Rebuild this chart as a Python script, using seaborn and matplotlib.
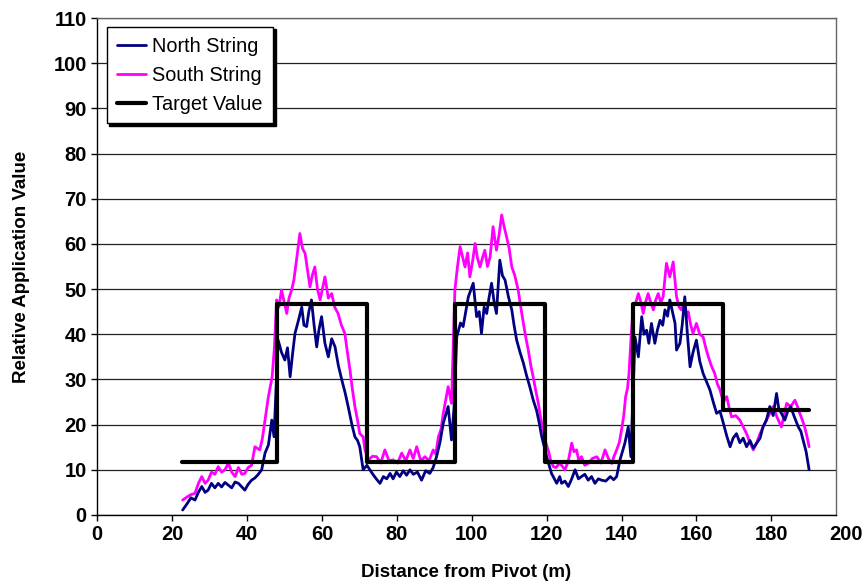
import matplotlib
matplotlib.use("Agg")
import matplotlib.pyplot as plt
import seaborn as sns
import pandas as pd

# ---- data ----
north_x = [22.8, 24.0, 25.0, 26.1, 27.0, 27.9, 28.8, 29.6, 30.5, 31.4, 32.3, 33.2, 34.1, 35.0, 35.9,
           36.8, 37.7, 38.6, 39.4, 40.3, 41.2, 42.1, 43.0, 43.9, 44.8, 45.7, 46.6, 47.2, 48.3, 49.2,
           50.1, 50.8, 51.5, 52.2, 52.8, 53.7, 54.6, 55.2, 55.9, 56.5, 57.2, 57.9, 58.6, 59.2, 59.9,
           60.8, 61.7, 62.6, 63.5, 64.4, 65.3, 66.2, 67.0, 68.0, 68.8, 69.5, 70.1, 71.0, 72.0, 72.8,
           73.6, 74.5, 75.5, 76.4, 77.3, 78.2, 79.0, 79.9, 80.8, 81.7, 82.6, 83.5, 84.4, 85.5, 86.6,
           87.7, 88.8, 89.7, 90.6, 91.5, 92.4, 93.7, 94.6, 95.3, 96.0, 97.0, 97.7, 98.4, 99.1, 100.4,
           101.3, 102.0, 102.6, 103.3, 104.0, 104.6, 105.3, 106.0, 106.6, 107.5, 108.2, 108.9, 109.8, 110.7, 111.3,
           112.0, 112.9, 113.8, 114.6, 115.5, 116.4, 117.3, 118.0, 118.7, 119.4, 120.0, 121.3, 122.7, 123.5, 124.0,
           124.9, 125.8, 126.7, 127.6, 128.5, 129.3, 130.2, 131.1, 132.0, 132.9, 133.8, 134.7, 135.8, 137.0, 137.9,
           138.7, 139.6, 140.9, 141.8, 142.5, 143.6, 144.5, 145.4, 146.0, 146.7, 147.3, 148.0, 148.9, 149.6, 150.3,
           151.0, 151.6, 152.3, 152.9, 153.6, 154.3, 154.7, 155.6, 156.2, 156.9, 157.6, 158.3, 159.1, 160.0, 160.9,
           161.8, 162.7, 163.6, 164.5, 165.4, 166.3, 167.2, 168.1, 169.0, 169.8, 170.7, 171.6, 172.5, 173.4, 174.3,
           175.2, 176.1, 177.0, 177.8, 178.7, 179.6, 180.5, 181.4, 182.0, 182.7, 183.6, 184.5, 185.2, 185.8, 186.5,
           187.2, 187.9, 188.5, 189.3, 190.1]
north_y = [1.1, 2.5, 3.8, 3.3, 5.0, 6.3, 5.0, 5.5, 7.0, 6.0, 7.0, 6.2, 7.2, 6.6, 6.0,
           7.3, 7.0, 6.2, 5.5, 6.8, 7.7, 8.2, 9.0, 10.0, 13.7, 15.5, 21.0, 17.3, 38.7, 36.0,
           34.3, 37.0, 30.6, 36.0, 40.2, 43.0, 46.0, 42.0, 41.7, 45.0, 47.6, 42.0, 37.2, 41.0, 43.9,
           38.0, 35.0, 39.0, 37.2, 33.0, 29.9, 27.0, 24.0, 20.0, 17.3, 16.5, 15.1, 10.0, 11.0, 10.0,
           9.0, 8.0, 7.0, 8.5, 8.0, 9.2, 8.0, 9.5, 8.5, 9.8, 8.8, 10.0, 9.0, 9.5, 7.7,
           9.8, 9.2, 10.5, 12.9, 16.0, 20.3, 24.0, 16.6, 24.0, 39.4, 42.5, 41.7, 45.0, 48.3, 51.3,
           43.9, 45.0, 40.2, 46.0, 44.6, 48.0, 51.3, 47.0, 44.6, 56.4, 53.0, 52.0, 48.3, 45.4, 42.0,
           38.7, 36.0, 33.6, 31.0, 28.4, 25.5, 23.2, 20.5, 17.3, 15.0, 12.9, 9.2, 7.0, 8.5, 7.0,
           7.5, 6.3, 8.0, 10.0, 8.0, 8.5, 9.0, 7.7, 8.5, 7.0, 8.0, 7.7, 7.5, 8.5, 7.8,
           8.5, 12.2, 15.9, 19.5, 12.9, 39.4, 35.0, 43.9, 40.0, 40.9, 38.0, 42.4, 38.0, 41.0, 43.1,
           42.0, 45.4, 44.0, 47.6, 45.0, 42.4, 36.5, 38.0, 42.0, 48.3, 40.0, 32.8, 36.0, 38.7, 34.0,
           31.3, 29.5, 27.7, 25.0, 22.5, 23.0, 20.3, 17.5, 15.1, 17.0, 18.0, 16.0, 17.0, 15.1, 16.5,
           14.8, 15.9, 17.0, 19.5, 21.0, 24.0, 22.0, 26.9, 23.5, 22.5, 21.0, 23.2, 24.0, 22.5, 21.0,
           19.5, 18.5, 16.6, 14.0, 10.0]

south_x = [22.8, 24.0, 25.0, 26.1, 27.0, 27.9, 28.8, 29.6, 30.5, 31.4, 32.3, 33.2, 34.1, 35.0, 35.9,
           36.8, 37.7, 38.6, 39.4, 40.3, 41.2, 42.1, 43.4, 44.1, 44.8, 45.7, 46.7, 47.3, 47.9, 48.5,
           49.2, 50.6, 51.2, 51.9, 52.5, 53.2, 54.1, 54.8, 55.5, 56.2, 56.8, 57.4, 58.1, 58.8, 59.5,
           60.1, 60.8, 61.7, 62.6, 63.4, 64.3, 65.2, 66.1, 66.8, 67.5, 68.1, 68.8, 69.5, 70.1, 71.0,
           71.5, 72.4, 73.5, 74.6, 75.7, 76.8, 77.9, 79.0, 80.2, 81.3, 82.4, 83.5, 84.4, 85.3, 86.4,
           87.5, 88.6, 89.7, 90.4, 91.1, 91.8, 92.4, 93.7, 94.6, 95.5, 96.2, 96.9, 97.6, 98.2, 98.9,
           99.5, 100.2, 100.9, 101.5, 102.2, 102.9, 103.5, 104.2, 104.9, 105.7, 106.6, 107.3, 108.0, 108.6, 109.3,
           110.0, 110.7, 111.5, 112.4, 113.1, 113.8, 114.5, 115.1, 115.8, 116.4, 117.1, 117.8, 118.4, 119.1, 119.8,
           120.4, 121.1, 121.8, 122.5, 123.5, 124.9, 125.8, 126.7, 127.3, 128.0, 128.6, 129.3, 130.2, 131.1, 132.2,
           133.4, 134.5, 135.6, 136.5, 137.4, 138.0, 138.7, 139.4, 140.0, 140.6, 141.1, 141.6, 142.0, 142.6, 143.1,
           143.8, 144.5, 145.2, 145.8, 146.4, 147.1, 147.8, 148.5, 149.1, 149.8, 150.5, 151.1, 152.0, 152.9, 153.8,
           154.7, 155.4, 156.0, 156.7, 157.4, 157.8, 158.5, 159.1, 160.0, 160.9, 161.8, 162.5, 163.2, 164.0, 164.9,
           165.6, 166.3, 167.2, 168.1, 168.8, 169.4, 170.5, 171.6, 172.5, 173.4, 174.3, 175.2, 176.1, 177.0, 177.8,
           178.7, 179.6, 180.5, 181.6, 182.7, 183.4, 184.1, 185.2, 186.3, 187.0, 187.6, 188.3, 188.9, 189.5, 190.1]
south_y = [3.3, 4.0, 4.5, 4.8, 7.0, 8.5, 7.0, 7.7, 9.5, 9.0, 10.7, 9.5, 10.0, 11.5, 9.5,
           8.5, 10.5, 9.0, 9.2, 10.5, 11.0, 15.1, 14.4, 17.0, 21.0, 26.2, 30.6, 37.0, 47.6, 46.0,
           49.8, 44.6, 48.0, 49.8, 52.0, 56.4, 62.3, 59.0, 57.9, 54.0, 50.5, 53.0, 54.9, 50.0, 47.6,
           50.0, 52.7, 48.0, 49.0, 46.0, 44.6, 42.0, 40.2, 36.0, 32.0, 28.0, 24.0, 21.0, 18.0, 17.3,
           14.4, 12.2, 13.0, 12.9, 11.5, 14.4, 12.0, 12.2, 11.5, 13.7, 12.0, 14.4, 12.5, 15.1, 12.0,
           12.9, 12.0, 14.4, 13.5, 17.3, 19.0, 22.5, 28.4, 24.7, 49.8, 55.0, 59.4, 57.0, 54.9, 58.0,
           52.7, 56.0, 60.1, 57.0, 54.9, 57.0, 58.6, 55.0, 57.1, 63.8, 58.6, 62.0, 66.4, 64.0, 61.6,
           59.0, 54.9, 53.0, 49.8, 46.0, 42.4, 39.0, 36.5, 33.0, 30.6, 27.5, 24.7, 21.5, 18.8, 16.0,
           14.4, 12.0, 10.7, 10.5, 11.5, 10.0, 12.0, 15.9, 14.0, 14.4, 12.0, 12.9, 11.0, 11.4, 12.5,
           12.9, 11.5, 14.4, 12.5, 11.4, 13.0, 14.4, 16.0, 18.8, 22.0, 26.2, 28.0, 31.3, 40.0, 46.1,
           47.0, 49.0, 47.0, 44.6, 47.0, 49.0, 47.0, 45.4, 47.5, 49.0, 47.0, 48.3, 55.7, 52.7, 56.0,
           48.3, 46.0, 45.4, 47.0, 43.9, 45.0, 42.0, 40.2, 42.4, 40.0, 39.4, 37.0, 35.0, 33.0, 31.3,
           29.0, 27.7, 25.0, 26.2, 23.5, 21.7, 22.0, 21.0, 19.5, 18.0, 16.0, 14.4, 16.0, 18.0, 19.5,
           21.0, 22.5, 24.0, 21.5, 19.5, 22.0, 24.7, 24.0, 25.4, 24.0, 22.5, 21.0, 19.5, 17.5, 15.1]

target_x = [22.5, 47.9, 71.9, 95.5, 119.6, 143.1, 167.0, 190.0]
target_y = [11.7, 46.8, 11.7, 46.8, 11.7, 46.8, 23.2, 23.2]

series_names = ["North String", "South String", "Target Value"]
x_ticks = [0, 20, 40, 60, 80, 100, 120, 140, 160, 180]
y_ticks = list(range(0, 111, 10))

# ---- styling ----
sns.set_theme(style="white")
plt.rcParams["font.family"] = ["Liberation Sans", "DejaVu Sans"]
plt.rcParams["text.color"] = "black"
plt.rcParams["axes.labelcolor"] = "black"
plt.rcParams["xtick.color"] = "black"
plt.rcParams["ytick.color"] = "black"

fig = plt.figure(figsize=(8.67, 5.87), dpi=100)
ax = fig.add_axes([0.1122, 0.1227, 0.8517, 0.8466])

north_df = pd.DataFrame({"x": north_x, "y": north_y})
south_df = pd.DataFrame({"x": south_x, "y": south_y})
target_df = pd.DataFrame({"x": target_x, "y": target_y})

ax.yaxis.grid(True, color="#222222", linewidth=0.9)
ax.set_axisbelow(True)

sns.lineplot(data=north_df, x="x", y="y", ax=ax, sort=False, estimator=None,
             color="#000080", linewidth=2.0, label=series_names[0], zorder=3)
sns.lineplot(data=south_df, x="x", y="y", ax=ax, sort=False, estimator=None,
             color="#FF00FF", linewidth=2.0, label=series_names[1], zorder=2)
sns.lineplot(data=target_df, x="x", y="y", ax=ax, sort=False, estimator=None,
             color="black", linewidth=3.0, drawstyle="steps-post",
             label=series_names[2], zorder=4)

ax.set_xlim(0, 197.2)
ax.set_ylim(0, 110)
ax.set_xticks(x_ticks)
ax.set_yticks(y_ticks)
ax.tick_params(axis="both", which="both", direction="out", length=4, width=1,
               color="black", labelcolor="black", labelsize=14.5, pad=3.5,
               bottom=True, left=True)
for lab in ax.get_xticklabels() + ax.get_yticklabels():
    lab.set_fontweight("bold")

# last x tick label sits just beyond the plot area, as in the reference
ax.annotate("200", xy=(200, 0), xycoords=("data", "axes fraction"),
            xytext=(0, -7.5), textcoords="offset points",
            ha="center", va="top", fontsize=14.5, fontweight="bold",
            color="black", annotation_clip=False)

ax.set_xlabel("Distance from Pivot (m)", fontsize=13.5, fontweight="bold", labelpad=14)
ax.set_ylabel("Relative Application Value", fontsize=13.5, fontweight="bold", labelpad=17)

for side in ["left", "bottom"]:
    ax.spines[side].set_color("black")
    ax.spines[side].set_linewidth(1.0)
for side in ["top", "right"]:
    ax.spines[side].set_color("#666666")
    ax.spines[side].set_linewidth(1.0)

leg = ax.legend(loc="upper left", bbox_to_anchor=(0.0127, 0.9825), borderaxespad=0,
                fontsize=14.3, frameon=True, fancybox=False, edgecolor="black",
                framealpha=1, shadow={"color": "black", "alpha": 1},
                handlelength=1.5, handletextpad=0.3, labelspacing=0.5,
                borderpad=0.5)
leg.get_frame().set_linewidth(1.0)
for h in leg.get_lines():
    h.set_linewidth(2.0)
leg.get_lines()[2].set_linewidth(3.0)

fig.savefig("out.png", dpi=100)
